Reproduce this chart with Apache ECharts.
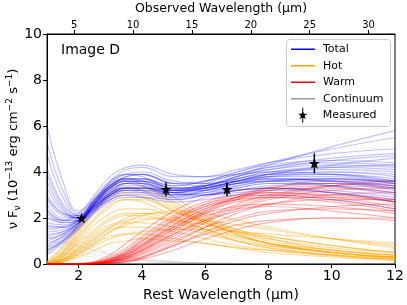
<!DOCTYPE html>
<html><head><meta charset="utf-8">
<script src="https://cdn.jsdelivr.net/npm/echarts@6/dist/echarts.min.js"></script>
<style>html,body{margin:0;padding:0;background:#fff}#c{width:407px;height:305px}</style>
</head><body><div id="c"></div>
<script>
// Rest wavelength grid (micron) at which model curves are sampled
const restWavelength = [1, 1.5, 2, 2.5, 3, 3.5, 4, 5, 6, 7, 8, 10, 12];
// redshift factor (1+z) linking rest and observed wavelength
const onePlusZ = 2.687;
const bottomTicks = [2, 4, 6, 8, 10, 12];
const topTicks = [5, 10, 15, 20, 25, 30];
const yTicks = [0, 2, 4, 6, 8, 10];

// Total model curves
const totalModels = [
  [5.3,3.2,2.2,2.9,3.6,3.9,3.8,3.3,3.4,3.8,4.1,4.3,4.2],
  [3.0,2.2,2.0,2.7,3.3,3.6,3.5,3.1,3.3,3.6,3.9,4.0,3.8],
  [1.5,1.6,1.9,2.6,3.2,3.5,3.4,3.0,3.1,3.4,3.6,3.7,3.5],
  [0.8,1.2,1.8,2.5,3.0,3.2,3.1,2.8,3.0,3.3,3.5,3.5,3.2],
  [4.2,2.6,2.1,2.8,3.6,4.1,4.2,3.8,3.8,4.1,4.4,4.8,5.0],
  [2.2,1.8,1.9,2.5,3.0,3.2,3.2,3.1,3.4,3.8,4.1,4.5,4.7],
  [1.2,1.4,1.8,2.3,2.8,3.0,3.0,2.9,3.2,3.5,3.7,3.6,3.3],
  [3.6,2.4,2.0,2.6,3.3,3.7,3.7,3.4,3.6,4.0,4.4,5.0,5.5],
  [0.6,1.0,1.6,2.2,2.7,2.9,2.9,2.8,3.0,3.2,3.3,3.1,2.7],
  [2.6,2.0,2.0,2.7,3.4,3.8,3.9,3.5,3.5,3.7,3.9,3.9,3.6],
  [1.8,1.7,2.0,2.8,3.5,3.9,4.0,3.6,3.5,3.6,3.7,3.6,3.4],
  [4.8,2.9,2.1,2.7,3.3,3.6,3.5,3.2,3.3,3.6,3.9,4.2,4.3],
  [1.0,1.3,1.8,2.5,3.1,3.3,3.2,2.9,3.0,3.2,3.3,3.2,2.9],
  [2.0,1.8,1.9,2.5,3.1,3.5,3.5,3.2,3.3,3.6,3.9,4.3,4.6],
  [3.3,2.3,2.0,2.6,3.2,3.5,3.5,3.1,3.0,3.1,3.2,3.1,2.8],
  [0.5,1.0,1.7,2.6,3.4,3.8,3.9,3.5,3.4,3.5,3.6,3.6,3.4],
  [1.4,1.5,1.9,2.7,3.4,3.7,3.7,3.3,3.4,3.8,4.3,5.1,5.8],
  [2.8,2.1,2.0,2.6,3.1,3.3,3.3,3.1,3.3,3.6,3.8,3.8,3.5],
  [6.0,3.6,2.3,2.8,3.4,3.7,3.7,3.4,3.6,4.0,4.3,4.5,4.4],
  [1.1,1.3,1.8,2.4,2.9,3.1,3.1,3.0,3.2,3.5,3.6,3.4,3.0],
  [2.4,1.9,1.9,2.6,3.3,3.6,3.6,3.2,3.2,3.4,3.6,3.7,3.6],
  [0.7,1.1,1.7,2.4,3.0,3.4,3.4,3.0,3.0,3.2,3.4,3.5,3.3],
  [1.6,1.6,1.9,2.4,2.8,3.0,2.9,2.7,2.8,3.0,3.0,2.8,2.4],
  [2.0,1.9,2.2,3.0,3.8,4.2,4.3,3.9,3.8,3.9,4.0,3.9,3.6],
  [0.4,0.9,1.5,2.3,3.0,3.3,3.3,3.1,3.2,3.5,3.8,4.0,3.9],
  [1.3,1.4,1.8,2.6,3.3,3.6,3.6,3.3,3.4,3.7,4.0,4.2,4.1],
  [3.9,2.5,2.0,2.5,3.0,3.3,3.3,3.2,3.5,3.9,4.2,4.6,4.8],
  [0.9,1.2,1.7,2.4,3.1,3.5,3.6,3.3,3.3,3.5,3.7,3.7,3.5],
  [2.3,1.9,2.0,2.7,3.4,3.7,3.6,3.2,3.3,3.6,3.8,3.9,3.7],
  [1.7,1.6,1.9,2.5,3.0,3.3,3.3,3.2,3.4,3.7,4.0,4.1,4.0],
  [0.6,1.0,1.6,2.3,2.9,3.2,3.2,3.0,3.1,3.3,3.5,3.4,3.1],
  [2.9,2.2,2.1,2.8,3.5,3.9,3.9,3.5,3.6,3.9,4.2,4.4,4.3]
];
// Hot dust component curves
const hotModels = [
  [0.05,0.6,1.6,2.5,3.1,3.3,3.2,2.5,1.8,1.3,0.9,0.5,0.3],
  [0.02,0.4,1.3,2.2,2.8,3.0,2.9,2.3,1.7,1.2,0.9,0.5,0.3],
  [0.1,0.8,1.8,2.8,3.4,3.7,3.6,2.9,2.1,1.5,1.1,0.6,0.4],
  [0.0,0.3,1.0,1.7,2.2,2.4,2.4,2.0,1.5,1.1,0.8,0.5,0.3],
  [0.0,0.2,0.7,1.3,1.7,1.9,2.0,1.9,1.7,1.4,1.2,0.8,0.5],
  [0.0,0.1,0.5,1.0,1.4,1.7,1.9,2.0,1.9,1.7,1.5,1.1,0.8],
  [0.0,0.2,0.8,1.4,1.9,2.1,2.1,1.8,1.4,1.0,0.7,0.4,0.2],
  [0.05,0.5,1.4,2.3,3.0,3.3,3.3,2.7,2.0,1.4,1.0,0.6,0.35],
  [0.0,0.15,0.5,0.9,1.2,1.3,1.3,1.1,0.9,0.7,0.5,0.3,0.15],
  [0.0,0.3,1.1,1.9,2.5,2.8,2.8,2.3,1.8,1.4,1.1,0.7,0.5],
  [0.0,0.1,0.4,0.8,1.1,1.3,1.4,1.5,1.5,1.4,1.3,1.1,0.9],
  [0.02,0.4,1.2,2.0,2.6,2.8,2.7,2.1,1.5,1.0,0.7,0.4,0.2],
  [0.0,0.2,0.6,1.1,1.5,1.6,1.6,1.4,1.1,0.8,0.6,0.35,0.2],
  [0.0,0.1,0.4,0.9,1.4,1.8,2.1,2.3,2.2,1.9,1.6,1.1,0.7],
  [0.08,0.7,1.7,2.6,3.2,3.5,3.4,2.6,1.9,1.3,0.9,0.5,0.25],
  [0.0,0.3,0.9,1.5,2.0,2.2,2.2,1.9,1.5,1.2,0.9,0.6,0.4],
  [0.03,0.5,1.5,2.4,2.9,3.1,3.0,2.4,1.8,1.3,0.9,0.5,0.3],
  [0.0,0.2,0.7,1.2,1.6,1.8,1.8,1.6,1.3,1.0,0.8,0.5,0.3],
  [0.0,0.1,0.3,0.6,0.9,1.0,1.1,1.0,0.9,0.7,0.6,0.4,0.25],
  [0.0,0.15,0.6,1.1,1.6,2.0,2.2,2.2,1.9,1.5,1.2,0.8,0.5]
];
// Warm dust component curves
const warmModels = [
  [0,0,0,0.02,0.1,0.3,0.6,1.4,2.2,2.8,3.2,3.4,3.3],
  [0,0,0,0.05,0.2,0.5,0.9,1.8,2.5,2.9,3.1,3.0,2.7],
  [0,0,0,0,0.05,0.15,0.3,0.9,1.6,2.2,2.6,3.0,3.1],
  [0,0,0.01,0.08,0.3,0.7,1.2,2.1,2.7,3.0,3.1,2.9,2.5],
  [0,0,0,0.02,0.1,0.25,0.5,1.2,1.9,2.5,2.9,3.4,3.6],
  [0,0,0,0.03,0.15,0.4,0.8,1.6,2.2,2.5,2.6,2.5,2.2],
  [0,0,0,0,0.03,0.1,0.25,0.8,1.4,1.9,2.2,2.5,2.6],
  [0,0,0.02,0.1,0.4,0.9,1.4,2.3,2.9,3.2,3.3,3.1,2.7],
  [0,0,0,0.01,0.06,0.2,0.4,1.0,1.6,2.0,2.3,2.4,2.3],
  [0,0,0,0.04,0.2,0.5,1.0,1.9,2.6,3.0,3.3,3.5,3.4],
  [0,0,0,0,0.04,0.12,0.3,0.8,1.3,1.7,1.9,2.0,1.9],
  [0,0,0,0.02,0.12,0.35,0.7,1.5,2.1,2.4,2.5,2.3,2.0],
  [0,0,0,0.01,0.08,0.25,0.55,1.3,2.0,2.6,3.0,3.4,3.5],
  [0,0,0.01,0.06,0.25,0.6,1.1,2.0,2.6,2.9,3.0,2.8,2.4],
  [0,0,0,0,0.02,0.08,0.2,0.6,1.1,1.5,1.8,2.0,2.0],
  [0,0,0,0.03,0.15,0.4,0.8,1.7,2.4,2.8,3.0,3.0,2.8],
  [0,0,0,0.02,0.1,0.3,0.65,1.5,2.3,2.9,3.3,3.6,3.6],
  [0,0,0,0.03,0.15,0.4,0.75,1.6,2.3,2.7,2.9,2.9,2.7],
  [0,0,0,0.01,0.07,0.2,0.45,1.1,1.8,2.4,2.8,3.2,3.3],
  [0,0,0.01,0.05,0.22,0.55,1.0,1.9,2.5,2.8,2.9,2.7,2.3],
  [0,0,0,0.02,0.1,0.3,0.6,1.3,1.9,2.3,2.6,2.8,2.8],
  [0,0,0,0.03,0.18,0.45,0.85,1.7,2.4,2.9,3.2,3.3,3.1]
];
// Continuum component curves
const contModels = [
  [1.2,1.0,0.8,0.6,0.45,0.3,0.2,0.1,0.05,0.02,0.01,0,0],
  [0.8,0.7,0.55,0.4,0.3,0.2,0.13,0.06,0.03,0.01,0,0,0],
  [1.6,1.3,1.0,0.75,0.5,0.35,0.25,0.12,0.06,0.03,0.01,0,0],
  [0.5,0.45,0.38,0.3,0.22,0.15,0.1,0.05,0.02,0.01,0,0,0],
  [1.0,0.9,0.75,0.55,0.4,0.28,0.18,0.08,0.04,0.02,0.01,0,0]
];
// Measured photometry
const measX = [2.09, 4.76, 6.69, 9.45];
const measY = [2.0, 3.25, 3.25, 4.38];
const measErr = [0.1, 0.3, 0.3, 0.43];

const FONT = 'DejaVu Sans';
const STAR = 'path://M50,5 L61.8,39.5 L97.6,39.5 L68.5,60.9 L79.4,95.5 L50,74.1 L20.6,95.5 L31.5,60.9 L2.4,39.5 L38.2,39.5 Z';
const STARBAR = 'path://M50,5 L61.8,39.5 L97.6,39.5 L68.5,60.9 L79.4,95.5 L50,74.1 L20.6,95.5 L31.5,60.9 L2.4,39.5 L38.2,39.5 Z M45,-20 L55,-20 L55,130 L45,130 Z';
const LINEICON = 'path://M0,0 L24,0 L24,1.5 L0,1.5 Z';

const series = [];
function addGroup(models, name, color, opacity, width) {
  models.forEach(m => {
    series.push({
      type: 'line', name: name, xAxisIndex: 0, yAxisIndex: 0,
      data: restWavelength.map((x, i) => [x, m[i]]),
      symbol: 'none', smooth: 0.45, silent: true, z: 2,
      itemStyle: { color: color },
      lineStyle: { color: color, width: width, opacity: opacity }
    });
  });
}
addGroup(contModels, 'Continuum', '#808080', 0.15, 1);
addGroup(hotModels, 'Hot', '#ffa500', 0.4, 1.2);
addGroup(warmModels, 'Warm', '#ff0000', 0.3, 1.2);
addGroup(totalModels, 'Total', '#0000ff', 0.24, 1.2);

series.push({
  type: 'custom', name: 'MeasuredErr', xAxisIndex: 0, yAxisIndex: 0, silent: true, z: 3,
  data: measX.map((x, i) => [x, measY[i] - measErr[i], measY[i] + measErr[i]]),
  renderItem: function (params, api) {
    const p1 = api.coord([api.value(0), api.value(1)]);
    const p2 = api.coord([api.value(0), api.value(2)]);
    return { type: 'line', shape: { x1: p1[0], y1: p1[1], x2: p2[0], y2: p2[1] },
      style: { stroke: '#000', lineWidth: 1.5 } };
  }
});
series.push({
  type: 'scatter', name: 'Measured', xAxisIndex: 0, yAxisIndex: 0, z: 3,
  data: measX.map((x, i) => [x, measY[i]]),
  symbol: STAR, symbolSize: 11, itemStyle: { color: '#000', opacity: 1 }
});

const chart = echarts.init(document.getElementById('c'), null, { renderer: 'canvas' });
chart.setOption({
  animation: false,
  backgroundColor: '#fff',
  textStyle: { fontFamily: FONT },
  grid: { left: 47, right: 12, top: 34, bottom: 41, outerBoundsMode: 'none', containLabel: false,
    show: true, borderColor: '#000', borderWidth: 1, backgroundColor: 'transparent' },
  xAxis: [{
    type: 'value', min: 1, max: 12, position: 'bottom',
    name: 'Rest Wavelength (μm)', nameLocation: 'middle', nameGap: 22,
    nameTextStyle: { fontFamily: FONT, fontSize: 14, color: '#000' },
    axisLine: { show: true, onZero: false, lineStyle: { color: '#000', width: 1 } },
    axisTick: { show: true, inside: false, length: 4, lineStyle: { color: '#000', width: 1 }, customValues: bottomTicks },
    axisLabel: { show: true, fontFamily: FONT, fontSize: 14, color: '#000', margin: 5, customValues: bottomTicks },
    splitLine: { show: false }
  }, {
    type: 'value', min: 1 * onePlusZ, max: 12 * onePlusZ, position: 'top',
    name: 'Observed Wavelength (μm)', nameLocation: 'middle', nameGap: 18,
    nameTextStyle: { fontFamily: FONT, fontSize: 12.5, color: '#000' },
    axisLine: { show: true, onZero: false, lineStyle: { color: '#000', width: 1 } },
    axisTick: { show: true, inside: false, length: 4, lineStyle: { color: '#000', width: 1 }, customValues: topTicks },
    axisLabel: { show: true, fontFamily: FONT, fontSize: 10, color: '#000', margin: 4, customValues: topTicks },
    splitLine: { show: false }
  }],
  yAxis: [{
    type: 'value', min: 0, max: 10,
    name: 'ν F{sub|ν} (10{sup|−13} erg cm{sup|−2} s{sup|−1})',
    nameLocation: 'middle', nameGap: 25, nameRotate: 90, nameMoveOverlap: false,
    nameTextStyle: {
      fontFamily: FONT, fontSize: 13, color: '#000', lineHeight: 17,
      rich: {
        sub: { fontFamily: FONT, fontSize: 9, color: '#000', lineHeight: 9, verticalAlign: 'bottom' },
        sup: { fontFamily: FONT, fontSize: 9, color: '#000', lineHeight: 9, verticalAlign: 'top' }
      }
    },
    axisLine: { show: true, onZero: false, lineStyle: { color: '#000', width: 1 } },
    axisTick: { show: true, inside: false, length: 4, lineStyle: { color: '#000', width: 1 }, customValues: yTicks },
    axisLabel: { show: true, fontFamily: FONT, fontSize: 14, color: '#000', margin: 5, customValues: yTicks },
    splitLine: { show: false }
  }],
  legend: [{
    orient: 'vertical', left: 291, top: 41, padding: 0, itemGap: 0, z: 20,
    itemWidth: 24, itemHeight: 12, selectedMode: false,
    textStyle: { fontFamily: FONT, fontSize: 11, color: '#000', lineHeight: 16.5, padding: [0, 0, 0, 3] },
    data: [
      { name: 'Total', icon: LINEICON, itemStyle: { color: '#0000ff', opacity: 1 } },
      { name: 'Hot', icon: LINEICON, itemStyle: { color: '#ffa500', opacity: 1 } },
      { name: 'Warm', icon: LINEICON, itemStyle: { color: '#ff0000', opacity: 1 } },
      { name: 'Continuum', icon: LINEICON, itemStyle: { color: '#999999', opacity: 1 } }
    ]
  }, {
    orient: 'vertical', left: 298, top: 107, padding: 0, itemGap: 0, z: 20,
    itemWidth: 10, itemHeight: 15, selectedMode: false,
    textStyle: { fontFamily: FONT, fontSize: 11, color: '#000', lineHeight: 16.5, padding: [0, 0, 0, 10] },
    data: [{ name: 'Measured', icon: STARBAR, itemStyle: { color: '#000', opacity: 1 } }]
  }],
  graphic: [{
    type: 'rect', left: 286, top: 39, z: 10, silent: true,
    shape: { width: 104, height: 87, r: 3 },
    style: { fill: 'rgba(255,255,255,0.8)', stroke: '#cccccc', lineWidth: 1 }
  }, {
    type: 'text', left: 61, top: 43, z: 10,
    style: { text: 'Image D', font: '14px "DejaVu Sans"', fill: '#000' }
  }],
  series: series
});
</script>
</body></html>
